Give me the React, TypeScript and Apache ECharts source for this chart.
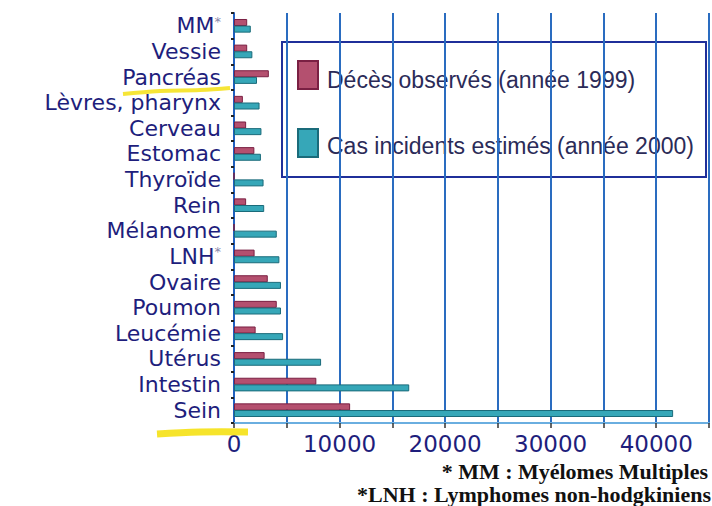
import React, { useEffect, useRef } from "react";
import * as echarts from "echarts";

// categories listed bottom to top
const categories = [
  "Sein", "Intestin", "Utérus", "Leucémie", "Poumon", "Ovaire", "LNH*", "Mélanome",
  "Rein", "Thyroïde", "Estomac", "Cerveau", "Lèvres, pharynx", "Pancréas", "Vessie", "MM*",
];
const deces1999 = [11000, 7800, 2900, 2050, 4050, 3200, 1950, 0, 1150, 0, 1930, 1150, 840, 3300, 1250, 1250];
const cas2000 = [41600, 16600, 8250, 4650, 4450, 4450, 4300, 4050, 2860, 2800, 2550, 2600, 2420, 2180, 1740, 1590];
const seriesNames = ["Décès observés (année 1999)", "Cas incidents estimés (année 2000)"];
const xTicks = { min: 0, max: 45000, interval: 5000, labelEvery: 10000 };
const footnotes = ["* MM : Myélomes Multiples", "*LNH : Lymphomes non-hodgkiniens"];

const NAVY = "#1e1e7c";
const RED = "#b4506f";
const RED_B = "#7a2043";
const TEAL = "#36a7b8";
const TEAL_B = "#1a6b7a";

export default function App() {
  const ref = useRef<HTMLDivElement>(null);
  useEffect(() => {
    if (!ref.current) return;
    const chart = echarts.init(ref.current, null, { renderer: "svg" });
    const option: any = {
      animation: false,
      backgroundColor: "#ffffff",
      grid: { left: 234, top: 13, width: 482, height: 410, containLabel: false },
      xAxis: {
        type: "value",
        min: xTicks.min,
        max: xTicks.max,
        interval: xTicks.interval,
        axisLine: { show: true, lineStyle: { color: "#6aaee0", width: 2 } },
        axisTick: { show: true, length: 5, lineStyle: { color: "#333", width: 1.5 } },
        axisLabel: {
          margin: 9,
          fontFamily: "DejaVu Sans",
          fontSize: 23,
          color: NAVY,
          formatter: (v: number) => (v % xTicks.labelEvery === 0 ? String(v) : ""),
        },
        splitLine: { show: true, lineStyle: { color: "#2a6cc0", width: 2 } },
      },
      yAxis: {
        type: "category",
        data: categories,
        axisLine: { show: true, lineStyle: { color: "#2060c0", width: 2 } },
        axisTick: { show: true, length: 3, lineStyle: { color: "#222", width: 2 } },
        axisLabel: {
          interval: 0,
          margin: 13,
          fontFamily: "DejaVu Sans",
          fontSize: 22,
          lineHeight: 22,
          color: NAVY,
          formatter: (v: string) => (v.endsWith("*") ? v.slice(0, -1) + "{s|*}" : v),
          rich: {
            s: { fontSize: 13, lineHeight: 22, color: "#8888aa", verticalAlign: "top" },
          },
        },
        splitLine: { show: false },
      },
      series: [
        {
          name: seriesNames[0],
          type: "bar",
          data: deces1999,
          barWidth: 7,
          barGap: "-5%",
          itemStyle: { color: RED, borderColor: RED_B, borderWidth: 1 },
        },
        {
          name: seriesNames[1],
          type: "bar",
          data: cas2000,
          barWidth: 7,
          barGap: "-5%",
          itemStyle: { color: TEAL, borderColor: TEAL_B, borderWidth: 1 },
        },
      ],
      graphic: [
        {
          type: "group",
          z: 100,
          children: [
            {
              type: "rect",
              shape: { x: 282, y: 42, width: 424, height: 135 },
              style: { fill: "#ffffff", stroke: "#1f2f9a", lineWidth: 2 },
            },
            {
              type: "rect",
              shape: { x: 298, y: 61, width: 20, height: 28 },
              style: { fill: RED, stroke: RED_B, lineWidth: 2 },
            },
            {
              type: "rect",
              shape: { x: 298, y: 129, width: 20, height: 28 },
              style: { fill: TEAL, stroke: TEAL_B, lineWidth: 2 },
            },
            {
              type: "text",
              x: 327,
              y: 80,
              style: {
                text: seriesNames[0],
                fontFamily: "Liberation Sans",
                fontSize: 23,
                fill: "#2b2b58",
                verticalAlign: "middle",
              },
            },
            {
              type: "text",
              x: 327,
              y: 146,
              style: {
                text: seriesNames[1],
                fontFamily: "Liberation Sans",
                fontSize: 23,
                fill: "#2b2b58",
                verticalAlign: "middle",
              },
            },
          ],
        },
        {
          type: "polyline",
          z: 101,
          shape: { points: [[123, 94], [160, 91], [200, 90], [230, 88]], smooth: 0.4 },
          style: { stroke: "rgba(245,225,20,0.85)", lineWidth: 4, fill: "none" },
        },
        {
          type: "polyline",
          z: 101,
          shape: { points: [[157, 434], [200, 432], [248, 432]], smooth: 0.4 },
          style: { stroke: "rgba(245,225,20,0.9)", lineWidth: 7, fill: "none" },
        },
        {
          type: "text",
          z: 101,
          x: 708,
          y: 471,
          style: {
            text: footnotes[0],
            fontFamily: "Liberation Serif",
            fontWeight: "bold",
            fontSize: 22,
            fill: "#111111",
            align: "right",
            verticalAlign: "middle",
          },
        },
        {
          type: "text",
          z: 101,
          x: 711,
          y: 494,
          style: {
            text: footnotes[1],
            fontFamily: "Liberation Serif",
            fontWeight: "bold",
            fontSize: 22,
            fill: "#111111",
            align: "right",
            verticalAlign: "middle",
          },
        },
      ],
    };
    chart.setOption(option);
    return () => chart.dispose();
  }, []);
  return (
    <div
      ref={ref}
      style={{ position: "fixed", left: 0, top: 0, width: 712, height: 506, background: "#fff" }}
    />
  );
}
